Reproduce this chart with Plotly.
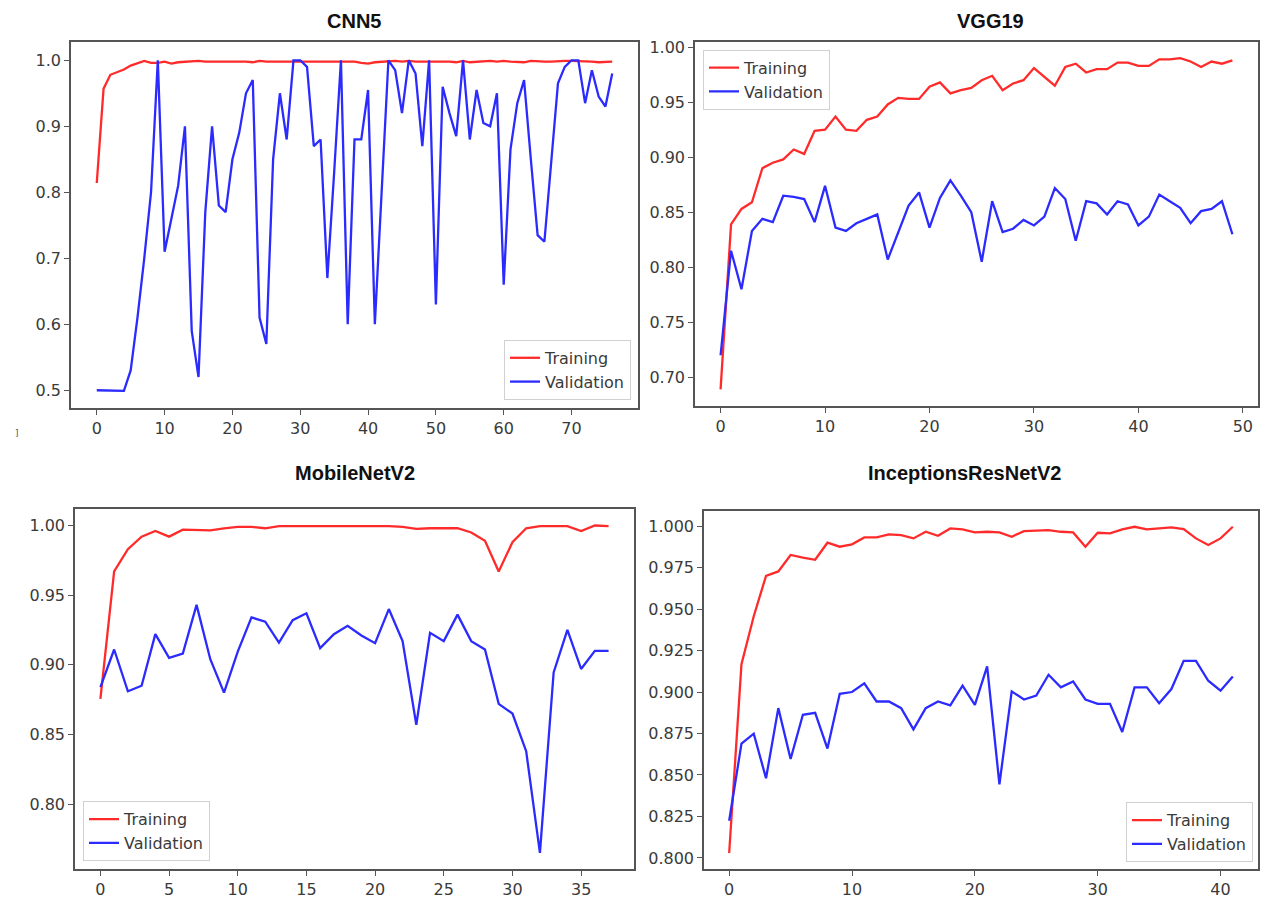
import plotly.graph_objects as go

# ---------------- data ----------------
cnn5_train = [0.814, 0.957, 0.978, 0.982, 0.986, 0.992, 0.995, 0.999, 0.996, 0.996,
              0.998, 0.995, 0.997, 0.998, 0.998, 0.999, 0.998, 0.998, 0.999, 0.998,
              0.998, 0.999, 0.998, 0.997, 0.999, 0.998, 0.998, 0.999, 0.998, 0.999,
              0.999, 0.998, 0.999, 0.999, 0.998, 0.999, 0.999, 0.998, 0.998, 0.996,
              0.995, 0.997, 0.998, 0.998, 0.999, 0.998, 0.999, 0.998, 0.998, 0.999,
              0.999, 0.998, 0.998, 0.997, 0.999, 0.997, 0.998, 0.998, 0.999, 0.998,
              0.999, 0.998, 0.998, 0.997, 0.999, 0.998, 0.998, 0.998, 0.999, 0.999,
              0.999, 0.999, 0.998, 0.998, 0.997, 0.998, 0.998]
cnn5_val = [0.50, 0.50, 0.50, 0.50, 0.499, 0.53, 0.61, 0.70, 0.80, 1.00,
            0.71, 0.76, 0.81, 0.90, 0.59, 0.52, 0.77, 0.90, 0.78, 0.77,
            0.85, 0.89, 0.95, 0.97, 0.61, 0.57, 0.85, 0.95, 0.88, 1.00,
            1.00, 0.99, 0.87, 0.88, 0.67, 0.83, 1.00, 0.60, 0.88, 0.88,
            0.955, 0.60, 0.80, 1.00, 0.985, 0.92, 1.00, 0.98, 0.87, 1.00,
            0.63, 0.96, 0.92, 0.885, 1.00, 0.88, 0.955, 0.905, 0.90, 0.95,
            0.66, 0.865, 0.935, 0.97, 0.85, 0.735, 0.725, 0.85, 0.965, 0.99,
            1.00, 1.00, 0.935, 0.985, 0.945, 0.93, 0.98]

vgg19_train = [0.689, 0.839, 0.853, 0.859, 0.890, 0.895, 0.898, 0.907, 0.903, 0.924,
               0.925, 0.937, 0.925, 0.924, 0.934, 0.937, 0.948, 0.954, 0.953, 0.953,
               0.964, 0.968, 0.958, 0.961, 0.963, 0.970, 0.974, 0.961, 0.967, 0.970,
               0.981, 0.973, 0.965, 0.982, 0.985, 0.977, 0.980, 0.980, 0.986, 0.986,
               0.983, 0.983, 0.989, 0.989, 0.990, 0.987, 0.982, 0.987, 0.985, 0.988]
vgg19_val = [0.720, 0.815, 0.780, 0.833, 0.844, 0.841, 0.865, 0.864, 0.862, 0.841,
             0.874, 0.836, 0.833, 0.840, 0.844, 0.848, 0.807, 0.832, 0.856, 0.868,
             0.836, 0.863, 0.879, 0.865, 0.850, 0.805, 0.860, 0.832, 0.835, 0.843,
             0.838, 0.846, 0.872, 0.862, 0.824, 0.860, 0.858, 0.848, 0.860, 0.857,
             0.838, 0.846, 0.866, 0.860, 0.854, 0.840, 0.851, 0.853, 0.860, 0.830]

mobile_train = [0.8755, 0.967, 0.983, 0.992, 0.996, 0.992, 0.997, 0.997, 0.9965, 0.998,
                0.999, 0.999, 0.998, 0.9995, 0.9995, 0.9998, 0.9995, 0.9998, 0.9998, 0.9995,
                0.9995, 0.9995, 0.999, 0.9976, 0.998, 0.998, 0.998, 0.995, 0.989, 0.967,
                0.988, 0.998, 0.9995, 0.9995, 0.9995, 0.996, 1.0, 0.9995]
mobile_val = [0.884, 0.911, 0.881, 0.885, 0.922, 0.905, 0.908, 0.943, 0.904, 0.880,
              0.9095, 0.934, 0.931, 0.916, 0.932, 0.937, 0.912, 0.922, 0.928, 0.921,
              0.9155, 0.940, 0.917, 0.857, 0.923, 0.917, 0.936, 0.917, 0.911, 0.872,
              0.865, 0.838, 0.765, 0.8945, 0.925, 0.897, 0.910, 0.910]

incep_train = [0.803, 0.9168, 0.9457, 0.970, 0.9727, 0.9826, 0.981, 0.9797, 0.990, 0.9876,
               0.989, 0.9932, 0.9932, 0.995, 0.9946, 0.9926, 0.9966, 0.9942, 0.9986, 0.998,
               0.9962, 0.9966, 0.9962, 0.9936, 0.997, 0.9972, 0.9976, 0.9966, 0.9962, 0.9876,
               0.996, 0.9956, 0.998, 0.9996, 0.998, 0.9986, 0.9992, 0.9982, 0.9926, 0.9886,
               0.9926, 0.9996]
incep_val = [0.8224, 0.8689, 0.8749, 0.848, 0.8903, 0.8596, 0.8863, 0.8875, 0.8659, 0.8989,
             0.900, 0.9052, 0.8943, 0.8943, 0.8903, 0.8775, 0.8903, 0.8943, 0.8919, 0.9038,
             0.8923, 0.9154, 0.8444, 0.9004, 0.8955, 0.8979, 0.9104, 0.9028, 0.9064, 0.8955,
             0.8929, 0.8929, 0.8759, 0.9028, 0.9028, 0.8933, 0.9018, 0.9188, 0.9188, 0.9068,
             0.9008, 0.9094]

titles = ["CNN5", "VGG19", "MobileNetV2", "InceptionsResNetV2"]
series_names = ["Training", "Validation"]

# ---------------- layout constants ----------------
W, H = 1269, 899
RED = "#ff2b2b"
BLUE = "#2b2bff"
AX = "#555555"
TXT = "#3a3a3a"
FONT = "DejaVu Sans"

panels = [
    # (train, val, box px (x0,x1,y0,y1), xrange, yrange, xdtick, ytickvals, yfmt, title pos, legend spec)
    dict(train=cnn5_train, val=cnn5_val, box=(71, 638, 38.5, 407.5),
         xr=[-3.8, 79.8], yr=[0.4726, 1.0274], xd=10,
         yt=[0.5, 0.6, 0.7, 0.8, 0.9, 1.0], yf=".1f", tpos=(354, 17),
         leg=(631, 399, "right", "bottom")),
    dict(train=vgg19_train, val=vgg19_val, box=(695, 1258, 38, 405),
         xr=[-2.45, 51.45], yr=[0.674, 1.005], xd=10,
         yt=[0.70, 0.75, 0.80, 0.85, 0.90, 0.95, 1.00], yf=".2f", tpos=(990, 17),
         leg=(703, 46, "left", "top")),
    dict(train=mobile_train, val=mobile_val, box=(75, 634, 509, 872),
         xr=[-1.85, 38.85], yr=[0.7533, 1.0118], xd=5,
         yt=[0.80, 0.85, 0.90, 0.95, 1.00], yf=".2f", tpos=(355, 473),
         leg=(83, 864, "left", "bottom")),
    dict(train=incep_train, val=incep_val, box=(704, 1258, 510.5, 872),
         xr=[-2.05, 43.05], yr=[0.7932, 1.0094], xd=10,
         yt=[0.800, 0.825, 0.850, 0.875, 0.900, 0.925, 0.950, 0.975, 1.000], yf=".3f",
         tpos=(964, 473), leg=(1253, 865, "right", "bottom")),
]

fig = go.Figure()
annotations = []
layout_updates = {}

for i, p in enumerate(panels):
    n = i + 1
    sx = "" if n == 1 else str(n)
    legname = "legend" if n == 1 else f"legend{n}"
    xs_t = list(range(len(p["train"])))
    xs_v = list(range(len(p["val"])))
    fig.add_trace(go.Scatter(x=xs_t, y=p["train"], mode="lines", name=series_names[0],
                             line=dict(color=RED, width=2.3), xaxis=f"x{sx}", yaxis=f"y{sx}",
                             legend=legname))
    fig.add_trace(go.Scatter(x=xs_v, y=p["val"], mode="lines", name=series_names[1],
                             line=dict(color=BLUE, width=2.3), xaxis=f"x{sx}", yaxis=f"y{sx}",
                             legend=legname))
    x0, x1, y0, y1 = p["box"]
    axis_common = dict(showline=True, linecolor=AX, linewidth=1.5, mirror=True,
                       ticks="outside", ticklen=5, tickwidth=1.2, tickcolor=AX,
                       showgrid=False, zeroline=False,
                       tickfont=dict(family=FONT, size=16, color=TXT))
    layout_updates[f"xaxis{sx}"] = dict(domain=[x0 / W, x1 / W], range=p["xr"],
                                        anchor=f"y{sx}", tick0=0, dtick=p["xd"],
                                        **axis_common)
    layout_updates[f"yaxis{sx}"] = dict(domain=[1 - y1 / H, 1 - y0 / H], range=p["yr"],
                                        anchor=f"x{sx}", tickvals=p["yt"],
                                        tickformat=p["yf"], **axis_common)
    lx, ly, xa, ya = p["leg"]
    layout_updates[legname] = dict(x=lx / W, y=1 - ly / H, xanchor=xa, yanchor=ya,
                                   xref="paper", yref="paper",
                                   bgcolor="rgba(255,255,255,0.85)", bordercolor="#d0d0d0",
                                   borderwidth=1, font=dict(family=FONT, size=16, color=TXT),
                                   itemwidth=30, tracegroupgap=0)
    tx, ty = p["tpos"]
    annotations.append(dict(text=f"<b>{titles[i]}</b>", x=tx / W, y=1 - ty / H,
                            xref="paper", yref="paper", xanchor="center", yanchor="middle",
                            showarrow=False,
                            font=dict(family="Liberation Sans", size=20, color="#111111")))

annotations.append(dict(text="]", x=13 / W, y=1 - 432 / H, xref="paper", yref="paper",
                        showarrow=False, font=dict(family=FONT, size=9, color="#555555")))

fig.update_layout(width=W, height=H, margin=dict(l=0, r=0, t=0, b=0),
                  paper_bgcolor="white", plot_bgcolor="white",
                  annotations=annotations, showlegend=True, **layout_updates)

fig.write_html("out.html")
